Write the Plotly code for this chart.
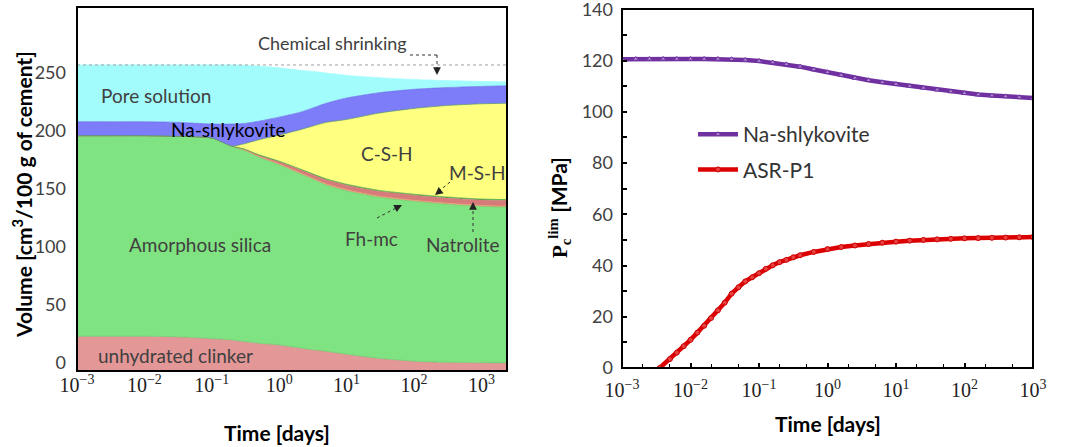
import numpy as np
import plotly.graph_objects as go

W, H = 1072, 447      # target picture size

# ---------------- Left panel data: phase volumes [cm3/100 g cement] ----------------
phase_log10_time = [-3, -2.52, -2, -1.52, -1, -0.7, -0.52, -0.3, 0, 0.3, 0.48, 0.7,
                    1, 1.48, 2, 2.48, 3, 3.4]
unhydrated_clinker = [23, 23, 23, 22.5, 21, 19.8, 18.5, 17, 15.5, 13, 11.5, 10,
                      7.5, 4, 1.5, 0.5, 0.2, 0]
amorphous_silica = [173, 173, 173, 173, 173, 167.2, 165, 160.5, 155.5, 150.5, 147.5, 143.5,
                    141, 139, 138, 136.5, 134.8, 134.5]
fh_mc = [0, 0, 0, 0, 0, 0, 0.3, 0.5, 0.6, 0.7, 0.7, 0.8, 0.8, 0.8, 0.8, 0.8, 0.8, 0.8]
natrolite = [0, 0, 0, 0, 0, 0, 0.4, 1.0, 1.8, 2.6, 3.1, 3.6, 4.0, 4.2, 4.4, 4.5, 4.7, 4.8]
m_s_h = [0, 0, 0, 0, 0, 0, 0.3, 0.5, 0.6, 0.7, 0.7, 0.8, 0.8, 0.8, 0.8, 0.8, 0.8, 0.8]
c_s_h = [0, 0, 0, 0, 0, 0, 4.5, 13, 22.5, 33.5, 40.5, 48.8, 55.9, 66.7, 74, 78.9, 82.2, 83.1]
na_shlykovite = [12, 12, 12, 12, 12, 19, 17.5, 16, 15.5, 15, 15.5, 16.5, 18.5, 17.5, 16.5,
                 15.5, 15, 15]
pore_solution = [49, 49, 49, 49.5, 51, 51, 50.3, 47.5, 42.5, 36.5, 32, 26, 19.5, 13,
                 8.5, 6, 4.3, 3.5]

phase_names = ["unhydrated clinker", "Amorphous silica", "Fh-mc", "Natrolite", "M-S-H",
               "C-S-H", "Na-shlykovite", "Pore solution"]
phase_values = [unhydrated_clinker, amorphous_silica, fh_mc, natrolite, m_s_h, c_s_h,
                na_shlykovite, pore_solution]
phase_colors = ["#e39797", "#80e381", "#eda070", "#d67a7a", "#4fae4f", "#ffff80",
                "#7d7dfa", "#a3fcfc"]
phase_lines = ["#6cc46c", "#6cc46c", "#eda070", "#d67a7a", "#3f9f3f", "#5a9a5a",
               "#6a6ae8", "#a3fcfc"]

# ---------------- Right panel data: P_c^lim [MPa] ----------------
nash_log10_time = [-3, -2.8, -2.6, -2.4, -2.2, -2, -1.8, -1.6, -1.4, -1.2, -1, -0.8, -0.6,
                   -0.4, -0.2, 0, 0.2, 0.4, 0.6, 0.8, 1, 1.2, 1.4, 1.6, 1.8, 2, 2.2, 2.4,
                   2.6, 2.8, 3]
nash_p = [120.5, 120.6, 120.6, 120.6, 120.6, 120.6, 120.6, 120.6, 120.5, 120.2, 119.8,
          119.2, 118.5, 117.6, 116.5, 115.4, 114.3, 113.2, 112.3, 111.5, 110.8, 110.0,
          109.3, 108.6, 107.9, 107.2, 106.7, 106.3, 106.0, 105.7, 105.4]
asr_log10_time = [-2.45, -2.3, -2.2, -2.1, -2.0, -1.9, -1.8, -1.7, -1.6, -1.5, -1.4, -1.3,
                  -1.2, -1.1, -1.0, -0.9, -0.8, -0.7, -0.6, -0.5, -0.4, -0.2, 0, 0.2, 0.4,
                  0.6, 0.8, 1.0, 1.2, 1.4, 1.6, 1.8, 2.0, 2.2, 2.4, 2.6, 2.8, 3.0]
asr_p = [0, 3.5, 6, 8.5, 11, 13.8, 16.5, 19.5, 22.5, 25.5, 29, 31.5, 33.8, 35.4, 37.0,
         38.7, 40.1, 41.3, 42.2, 43.2, 44, 45.3, 46.4, 47.2, 47.8, 48.4, 48.9, 49.3, 49.7,
         50.0, 50.2, 50.4, 50.6, 50.7, 50.8, 50.9, 51.0, 51.1]

tick_times = [1e-3, 1e-2, 1e-1, 1, 10, 100, 1000]
tick_text = ["10<sup>−3</sup>", "10<sup>−2</sup>", "10<sup>−1</sup>", "10<sup>0</sup>",
             "10<sup>1</sup>", "10<sup>2</sup>", "10<sup>3</sup>"]
left_y_range = [-7, 307]
right_y_range = [0, 140.1]


def px(x):
    return x / W


def py(y):
    return 1 - y / H


fig = go.Figure()

# Left: stacked areas
t_phase = 10 ** np.array(phase_log10_time)
base = np.full(len(t_phase), left_y_range[0], dtype=float)
fig.add_trace(go.Scatter(x=t_phase, y=base, mode="lines", line=dict(width=0),
                         showlegend=False, hoverinfo="skip", xaxis="x", yaxis="y"))
cum = np.zeros(len(t_phase))
for name, vals, col, lc in zip(phase_names, phase_values, phase_colors, phase_lines):
    cum = cum + np.array(vals, dtype=float)
    fig.add_trace(go.Scatter(x=t_phase, y=cum.copy(), mode="lines", fill="tonexty",
                             fillcolor=col, line=dict(color=lc, width=0.7, shape="spline",
                                                      smoothing=0.6),
                             name=name, showlegend=False, xaxis="x", yaxis="y"))
initial_total = cum[0]

# chemical shrinking reference line (initial total volume)
fig.add_trace(go.Scatter(x=[t_phase[0], t_phase[-1]], y=[initial_total, initial_total],
                         mode="lines", line=dict(color="#a0a0a0", width=1, dash="dot"),
                         showlegend=False, hoverinfo="skip", xaxis="x", yaxis="y"))

# Right: lines
fig.add_trace(go.Scatter(x=10 ** np.array(nash_log10_time), y=nash_p, mode="lines+markers",
                         name="Na-shlykovite",
                         line=dict(color="#7030a0", width=4.5),
                         marker=dict(symbol="triangle-up", size=5, color="#a987cc",
                                     line=dict(color="#7030a0", width=1)),
                         legendgroup="a", xaxis="x2", yaxis="y2"))
fig.add_trace(go.Scatter(x=10 ** np.array(asr_log10_time), y=asr_p, mode="lines+markers",
                         name="ASR-P1",
                         line=dict(color="#dd0000", width=4.5),
                         marker=dict(symbol="circle", size=5, color="#e84040",
                                     line=dict(color="#cc0000", width=1)),
                         legendgroup="b", xaxis="x2", yaxis="y2"))

axis_common = dict(showline=False, showgrid=False, zeroline=False, automargin=False,
                   ticklabeloverflow="allow")

fig.update_layout(
    width=W, height=H,
    margin=dict(l=0, r=0, t=0, b=0, autoexpand=False),
    paper_bgcolor="white", plot_bgcolor="white",
    font=dict(family="Lato", color="#404040"),
    xaxis=dict(domain=[px(77), px(507)], type="log", range=[-3, 3.38],
               tickvals=tick_times, ticktext=tick_text, ticks="",
               ticklabelstandoff=0,
               tickfont=dict(family="Liberation Serif", size=20, color="#222222"),
               anchor="y", **axis_common),
    yaxis=dict(domain=[py(371), py(7)], range=left_y_range,
               tickvals=[0, 50, 100, 150, 200, 250],
               ticks="", ticklabelstandoff=10,
               tickfont=dict(family="Lato", size=18, color="#404040"),
               anchor="x", **axis_common),
    xaxis2=dict(domain=[px(622), px(1033)], type="log", range=[-3, 3],
                tickvals=tick_times, ticktext=tick_text, ticks="inside", ticklen=5,
                tickwidth=1.5, tickcolor="black", ticklabelstandoff=8,
                minor=dict(ticks="inside", ticklen=4, tickwidth=1.2, tickcolor="black"),
                tickfont=dict(family="Liberation Serif", size=20, color="#222222"),
                anchor="y2", **axis_common),
    yaxis2=dict(domain=[py(368), py(9)], range=right_y_range,
                tickvals=[0, 20, 40, 60, 80, 100, 120, 140], ticks="inside",
                ticklen=5, tickwidth=1.5, tickcolor="black",
                minor=dict(ticks="inside", ticklen=5, tickwidth=1.5, dtick=10,
                           tickcolor="black"),
                tickfont=dict(family="Lato", size=18, color="#404040"),
                ticklabelstandoff=8,
                anchor="x2", **axis_common),
    legend=dict(x=px(693), y=py(114), xanchor="left", yanchor="top",
                bgcolor="rgba(0,0,0,0)", font=dict(family="Lato", size=21, color="#333333"),
                tracegroupgap=5, itemwidth=40),
    showlegend=True,
)

ann = []


def label(text, x, y, size=18, color="#404040", **kw):
    ann.append(dict(text=text, x=px(x), y=py(y), xref="paper", yref="paper",
                    xanchor="center", yanchor="middle",
                    showarrow=False, font=dict(family="Lato", size=size, color=color), **kw))


label("Chemical shrinking", 332, 43, size=18)
label("Pore solution", 156, 95, size=19)
label("Na-shlykovite", 228, 130, size=19, color="#000000")
label("C-S-H", 387, 153, size=19)
label("M-S-H", 477, 172, size=19)
label("Amorphous silica", 200, 244, size=19)
label("Fh-mc", 371, 238, size=19)
label("Natrolite", 463, 245, size=19)
label("unhydrated clinker", 175, 355, size=19)

# axis titles
label("<b>Time [days]</b>", 277, 432, size=21, color="#000000")
label("<b>Time [days]</b>", 828, 423, size=21, color="#000000")
label("<b>Volume [cm<sup>3</sup>/100 g of cement]</b>", 22, 195, size=21, color="#000000",
      textangle=-90)
label("<span style='font-family:Liberation Serif'><b>P<sub>c</sub><sup>lim</sup></b></span>"
      " <b>[MPa]</b>", 560, 208, size=21, color="#000000", textangle=-90)

shapes = []

# frames
for xr, yr in (("x domain", "y domain"), ("x2 domain", "y2 domain")):
    shapes.append(dict(type="rect", xref=xr, yref=yr, x0=0, x1=1, y0=0, y1=1,
                       line=dict(color="black", width=2), layer="above"))


# dashed leader lines + arrowheads
def leader(x0, y0, x1, y1):
    shapes.append(dict(type="line", xref="paper", yref="paper", x0=px(x0), y0=py(y0),
                       x1=px(x1), y1=py(y1), line=dict(color="#333333", width=1, dash="dot")))


def head(xh, yh, dx, dy):
    ann.append(dict(x=px(xh), y=py(yh), xref="paper", yref="paper", text="",
                    showarrow=True, arrowhead=2, arrowsize=1.3, arrowwidth=1.2,
                    arrowcolor="#222222", ax=-dx, ay=-dy, axref="pixel", ayref="pixel"))


# Chemical shrinking
leader(410, 55, 437, 55)
leader(437, 55, 437, 68)
head(437, 75, 0, 9)
# M-S-H
leader(450, 182, 438, 192)
head(435, 195, -5, 4)
# Fh-mc
leader(377, 218, 398, 207)
head(402, 205, 6, -3)
# Natrolite
leader(473, 232, 473, 208)
head(473, 202, 0, -8)

fig.update_layout(annotations=ann, shapes=shapes)

fig.write_html("out.html", config={"displayModeBar": False},
               post_script="document.body.style.margin='0px';"
                           "document.body.style.overflow='hidden';")
